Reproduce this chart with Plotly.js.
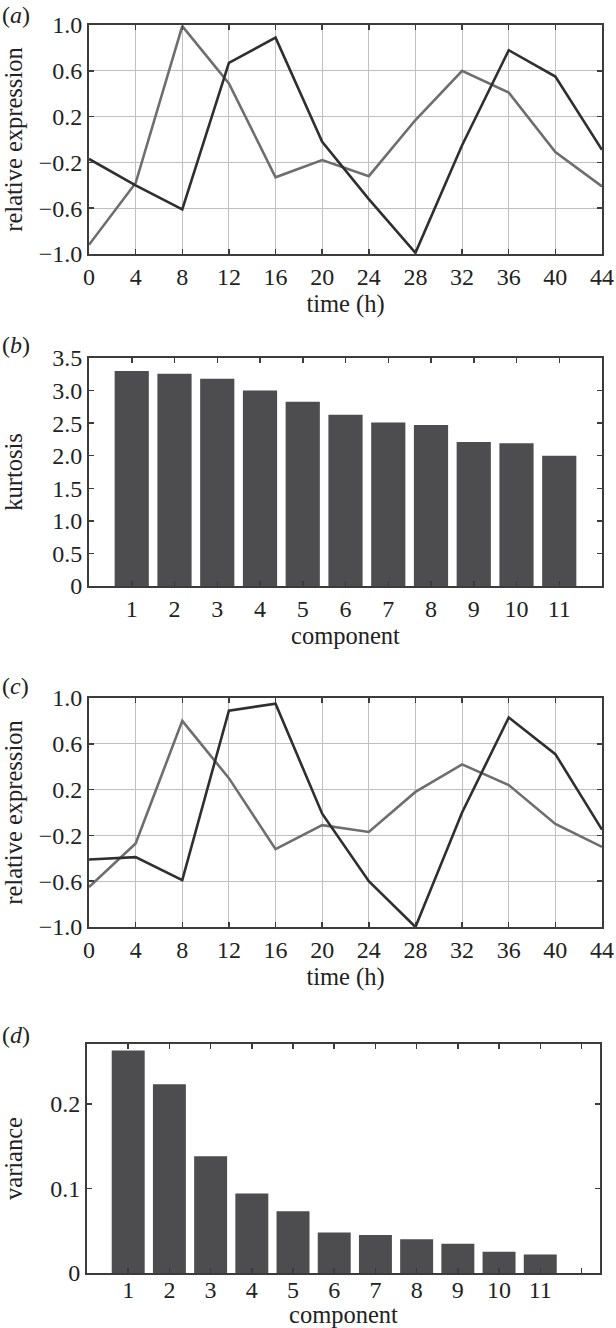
<!DOCTYPE html>
<html><head><meta charset="utf-8">
<script src="https://cdn.plot.ly/plotly-3.0.1.min.js"></script>
<style>html,body{margin:0;padding:0;background:#fff}</style>
</head><body>
<div id="chart" style="width:616px;height:1328px"></div>
<script>
// ---- data ----
const timeHours = [0, 4, 8, 12, 16, 20, 24, 28, 32, 36, 40, 44];
const panelA_dark  = [-0.17, -0.40, -0.61, 0.67, 0.89, -0.02, -0.52, -0.99, -0.05, 0.78, 0.55, -0.09];
const panelA_light = [-0.92, -0.38, 0.99, 0.49, -0.33, -0.18, -0.32, 0.17, 0.60, 0.41, -0.11, -0.41];
const panelC_dark  = [-0.41, -0.39, -0.59, 0.89, 0.95, -0.01, -0.60, -1.00, 0.00, 0.83, 0.51, -0.15];
const panelC_light = [-0.65, -0.27, 0.80, 0.30, -0.32, -0.11, -0.17, 0.18, 0.42, 0.24, -0.10, -0.30];
const components = [1, 2, 3, 4, 5, 6, 7, 8, 9, 10, 11];
const kurtosis = [3.30, 3.26, 3.18, 3.00, 2.83, 2.63, 2.51, 2.47, 2.21, 2.19, 2.00];
const variance = [0.263, 0.223, 0.138, 0.094, 0.073, 0.048, 0.045, 0.040, 0.0345, 0.025, 0.022];

// ---- tick labels ----
const timeTickLabels = ["0","4","8","12","16","20","24","28","32","36","40","44"];
const exprTickVals = [-1, -0.6, -0.2, 0.2, 0.6, 1];
const exprTickLabels = ["\u22121.0","\u22120.6","\u22120.2","0.2","0.6","1.0"];
const kurtTickVals = [0, 0.5, 1, 1.5, 2, 2.5, 3, 3.5];
const kurtTickLabels = ["0","0.5","1.0","1.5","2.0","2.5","3.0","3.5"];
const varTickVals = [0, 0.1, 0.2];
const varTickLabels = ["0","0.1","0.2"];
const compTickValsB = [1,2,3,4,5,6,7,8,9,10,11];
const compTickLabelsB = ["1","2","3","4","5","6","7","8","9","10","11"];
const compTickValsD = [1,2,3,4,5,6,7,8,9,10,11,12];
const compTickLabelsD = ["1","2","3","4","5","6","7","8","9","10","11",""];

// ---- style ----
const FONT = "Liberation Serif, Times New Roman, serif";
const DARK = "#2f2f2f", LIGHT = "#6e6e6e", BAR = "#4d4d4f", FRAME = "#3c3c3c", GRID = "#c0c0c0";
const W = 616, H = 1328;
const px = (a, b) => [a / W, b / W];
const py = (top, bottom) => [1 - bottom / H, 1 - top / H];

function baseAxis(extra) {
  return Object.assign({
    showline: true, linecolor: FRAME, linewidth: 2, mirror: 'ticks',
    ticks: 'inside', ticklen: 5, tickwidth: 1.5, tickcolor: FRAME,
    zeroline: false, showgrid: false, fixedrange: true,
    tickfont: {family: FONT, size: 24, color: '#222'},
    tickmode: 'array'
  }, extra);
}
function title(t, standoff) {
  return {text: t, font: {family: FONT, size: 24.5, color: '#222'}, standoff: standoff};
}

const traces = [
  {x: timeHours, y: panelA_light, type: 'scatter', mode: 'lines', line: {color: LIGHT, width: 2.6}, xaxis: 'x', yaxis: 'y', hoverinfo: 'skip'},
  {x: timeHours, y: panelA_dark,  type: 'scatter', mode: 'lines', line: {color: DARK, width: 2.6}, xaxis: 'x', yaxis: 'y', hoverinfo: 'skip'},
  {x: components, y: kurtosis, type: 'bar', marker: {color: BAR, line: {width: 0}}, width: 0.8, xaxis: 'x2', yaxis: 'y2', hoverinfo: 'skip'},
  {x: timeHours, y: panelC_light, type: 'scatter', mode: 'lines', line: {color: LIGHT, width: 2.6}, xaxis: 'x3', yaxis: 'y3', hoverinfo: 'skip'},
  {x: timeHours, y: panelC_dark,  type: 'scatter', mode: 'lines', line: {color: DARK, width: 2.6}, xaxis: 'x3', yaxis: 'y3', hoverinfo: 'skip'},
  {x: components, y: variance, type: 'bar', marker: {color: BAR, line: {width: 0}}, width: 0.8, xaxis: 'x4', yaxis: 'y4', hoverinfo: 'skip'}
];

const gridOpts = {showgrid: true, gridcolor: GRID, gridwidth: 1};

const layout = {
  width: W, height: H, margin: {l: 0, r: 0, t: 0, b: 0},
  paper_bgcolor: '#fff', plot_bgcolor: '#fff', showlegend: false,
  xaxis: baseAxis(Object.assign({domain: px(89, 602), anchor: 'y', range: [0, 44], tickvals: timeHours, ticktext: timeTickLabels, title: title('time (h)', 4)}, gridOpts)),
  yaxis: baseAxis(Object.assign({domain: py(25, 254), anchor: 'x', range: [-1, 1], tickvals: exprTickVals, ticktext: exprTickLabels, title: title('relative expression', 12)}, gridOpts)),
  xaxis2: baseAxis({domain: px(89, 602), anchor: 'y2', range: [0, 12], tickvals: compTickValsB, ticktext: compTickLabelsB, title: title('component', 4)}),
  yaxis2: baseAxis({domain: py(358, 586), anchor: 'x2', range: [0, 3.5], tickvals: kurtTickVals, ticktext: kurtTickLabels, title: title('kurtosis', 26)}),
  xaxis3: baseAxis(Object.assign({domain: px(89, 602), anchor: 'y3', range: [0, 44], tickvals: timeHours, ticktext: timeTickLabels, title: title('time (h)', 4)}, gridOpts)),
  yaxis3: baseAxis(Object.assign({domain: py(698, 927), anchor: 'x3', range: [-1, 1], tickvals: exprTickVals, ticktext: exprTickLabels, title: title('relative expression', 12)}, gridOpts)),
  xaxis4: baseAxis({domain: px(87, 600), anchor: 'y4', range: [0, 12.45], tickvals: compTickValsD, ticktext: compTickLabelsD, ticklabelstandoff: -6, title: title('component', 6)}),
  yaxis4: baseAxis({domain: py(1044, 1273), anchor: 'x4', range: [0, 0.2706], tickvals: varTickVals, ticktext: varTickLabels, title: title('variance', 24)}),
  annotations: [
    {text: '(<i>a</i>)', x: 0, y: 1 - 15 / H},
    {text: '(<i>b</i>)', x: 0, y: 1 - 345 / H},
    {text: '(<i>c</i>)', x: 0, y: 1 - 686 / H},
    {text: '(<i>d</i>)', x: 0, y: 1 - 1035 / H}
  ].map(a => Object.assign(a, {xref: 'paper', yref: 'paper', xanchor: 'left', yanchor: 'middle', showarrow: false, font: {family: FONT, size: 24, color: '#222'}}))
};

Plotly.newPlot('chart', traces, layout, {staticPlot: true, displayModeBar: false});
</script>
</body></html>
